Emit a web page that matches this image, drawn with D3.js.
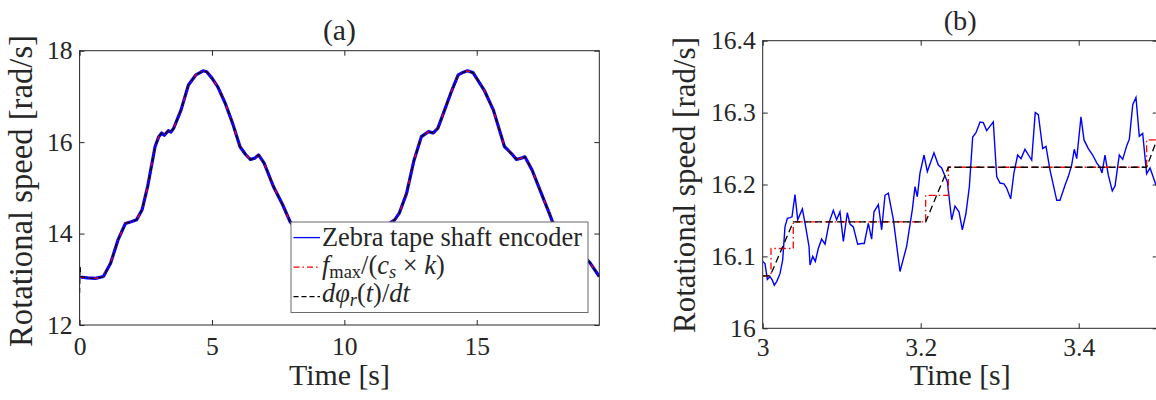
<!DOCTYPE html>
<html>
<head>
<meta charset="utf-8">
<script src="https://cdn.jsdelivr.net/npm/d3@7/dist/d3.min.js"></script>
<style>
	body { margin: 0; background: #fff; }
	svg text { font-family: "Liberation Serif", "DejaVu Serif", "Noto Serif", "Times New Roman", serif; fill: #262626; }
</style>
</head>
<body>
<script>

	/*------ data ------*/

	// panel (a) : one speed trace, all three estimates sit on top of each other
	var timeA = [0, 0.3, 0.6, 0.9, 1.17, 1.45, 1.73, 1.95, 2.15, 2.36, 2.57, 2.85, 2.99, 3.1, 3.2, 3.35, 3.45, 3.55,
		3.83, 4.11, 4.39, 4.55, 4.66, 4.8, 5.0, 5.22, 5.5, 5.78, 6.06, 6.27, 6.45, 6.62, 6.76, 6.97, 7.32, 7.67, 7.95,
		8.5, 9.0, 9.28, 9.63, 10.0, 10.6, 10.9, 11.17, 11.45, 11.69, 11.9, 12.07, 12.35, 12.63, 12.91, 13.18, 13.35,
		13.53, 13.74, 14.02, 14.3, 14.5, 14.65, 14.86, 15.28, 15.63, 16.05, 16.33, 16.5, 16.68, 16.82, 17.09, 17.44,
		17.79, 17.86, 18.3, 18.8, 19.28, 19.63];
	var speedA = [13.05, 13.03, 13.02, 13.06, 13.35, 13.86, 14.22, 14.26, 14.3, 14.52, 15.03, 15.9, 16.12, 16.2, 16.15, 16.25, 16.22, 16.3,
		16.7, 17.25, 17.47, 17.52, 17.56, 17.54, 17.4, 17.21, 16.85, 16.41, 15.9, 15.73, 15.62, 15.65, 15.72, 15.54, 15.03, 14.63, 14.26,
		13.9, 13.6, 13.36, 13.06, 13.02, 13.02, 13.06, 13.35, 13.86, 14.22, 14.3, 14.44, 14.88, 15.6, 16.12, 16.23, 16.2,
		16.3, 16.63, 17.07, 17.47, 17.53, 17.56, 17.52, 17.14, 16.7, 15.9, 15.74, 15.62, 15.65, 15.68, 15.39, 14.88,
		14.37, 14.26, 13.98, 13.66, 13.36, 13.06];
	var derivStartT = [0, 0.02, 0.05];
	var derivStartV = [12.7, 13.28, 13.06];

	var xTicksA = [0, 5, 10, 15];
	var yTicksA = [12, 14, 16, 18];

	// panel (b) : zoom on 3 - 3.5 s
	var timeB = [3.000, 3.0029, 3.0059, 3.0092, 3.0122, 3.0147, 3.0177, 3.0219, 3.0253, 3.0282, 3.0312, 3.0346, 3.0371,
		3.0409, 3.0443, 3.0502, 3.0544, 3.0586, 3.0599, 3.0633, 3.0666, 3.0704, 3.0746, 3.0789, 3.0843, 3.0894, 3.0936,
		3.0978, 3.1021, 3.1071, 3.1105, 3.1147, 3.1202, 3.1253, 3.1286, 3.1337, 3.1379, 3.1409, 3.1464, 3.1506, 3.1548,
		3.159, 3.1654, 3.1738, 3.1822, 3.1894, 3.1928, 3.1957, 3.1991, 3.2042, 3.2084, 3.2168, 3.2223, 3.2265, 3.2337,
		3.2392, 3.2434, 3.2485, 3.2527, 3.2573, 3.2616, 3.2658, 3.2700, 3.2751, 3.2793, 3.2835, 3.2919, 3.2962, 3.3004,
		3.3054, 3.3088, 3.3139, 3.3180, 3.3227, 3.3270, 3.3320, 3.3370, 3.3405, 3.3450, 3.3489, 3.3544, 3.3586, 3.3637,
		3.3722, 3.3763, 3.3827, 3.3868, 3.3911, 3.3944, 3.3975, 3.4029, 3.4067, 3.4122, 3.4177, 3.4228, 3.4270, 3.4295,
		3.4333, 3.4375, 3.4425, 3.4460, 3.4514, 3.4557, 3.4608, 3.4641, 3.4684, 3.4725, 3.4767, 3.4810, 3.4860, 3.4903,
		3.4944, 3.4979];
	var encoderB = [16.093, 16.090, 16.068, 16.072, 16.067, 16.060, 16.065, 16.076, 16.095, 16.141, 16.153, 16.154, 16.155,
		16.186, 16.151, 16.166, 16.141, 16.114, 16.088, 16.100, 16.093, 16.111, 16.124, 16.117, 16.148, 16.164, 16.151,
		16.162, 16.121, 16.161, 16.145, 16.141, 16.117, 16.118, 16.118, 16.146, 16.124, 16.162, 16.172, 16.137, 16.185,
		16.188, 16.151, 16.079, 16.114, 16.165, 16.197, 16.183, 16.216, 16.241, 16.218, 16.244, 16.227, 16.223, 16.204,
		16.151, 16.170, 16.162, 16.137, 16.160, 16.197, 16.266, 16.272, 16.287, 16.286, 16.275, 16.287, 16.211, 16.202,
		16.201, 16.195, 16.180, 16.216, 16.241, 16.236, 16.249, 16.240, 16.234, 16.300, 16.297, 16.250, 16.253, 16.220,
		16.178, 16.178, 16.199, 16.211, 16.227, 16.249, 16.236, 16.294, 16.262, 16.250, 16.241, 16.230, 16.224, 16.216,
		16.241, 16.213, 16.191, 16.198, 16.241, 16.235, 16.254, 16.263, 16.311, 16.321, 16.267, 16.271, 16.215, 16.223,
		16.210, 16.199];
	// f_max/(c_s k) : staircase
	var stepT = [3.000, 3.0105, 3.0387, 3.2063, 3.235, 3.486, 3.5];
	var stepV = [16.073, 16.111, 16.148, 16.185, 16.224, 16.262, 16.262];
	// d phi_r / dt : piecewise linear
	var derivT = [3.000, 3.0095, 3.0387, 3.2063, 3.235, 3.486, 3.499];
	var derivV = [16.073, 16.073, 16.148, 16.148, 16.224, 16.224, 16.262];

	var xTicksB = [3, 3.2, 3.4];
	var yTicksB = [16, 16.1, 16.2, 16.3, 16.4];

	/*------ layout ------*/

	var svg = d3.select('body')
		.append('svg')
		.attr('width', 1156)
		.attr('height', 400);

	var boxA = { left: 79.6, right: 599.3, top: 50.7, bottom: 325 };
	var boxB = { left: 762.7, right: 1157.7, top: 40.7, bottom: 328.3 };

	var xA = d3.scaleLinear().domain([0, 19.63]).range([boxA.left, boxA.right]);
	var yA = d3.scaleLinear().domain([12, 18]).range([boxA.bottom, boxA.top]);
	var xB = d3.scaleLinear().domain([3, 3.5]).range([boxB.left, boxB.right]);
	var yB = d3.scaleLinear().domain([16, 16.4]).range([boxB.bottom, boxB.top]);

	// font size so that a text gets the width it has in the figure
	function fitWidth(sel, target) {
		var len = sel.node().getComputedTextLength();
		var fs = +sel.attr('font-size');
		if (len > 0) sel.attr('font-size', (fs * target / len).toFixed(2));
	}

	// digits width of the serif face, to size tick labels ("10" is ~25.6px wide)
	var probe = svg.append('text').attr('font-size', 26).text('10');
	var tickSize = 26 * 25.6 / probe.node().getComputedTextLength();
	probe.remove();

	function zipPts(ts, vs) {
		return ts.map(function (t, i) { return [t, vs[i]]; });
	}

	function drawAxes(box, x, y, xt, yt, xPad, title, titleY, ylabX, ylabY, ylabW) {
		var g = svg.append('g');

		g.append('rect')
			.attr('x', box.left).attr('y', box.top)
			.attr('width', box.right - box.left).attr('height', box.bottom - box.top)
			.attr('fill', 'none').attr('stroke', '#262626').attr('stroke-width', 1);

		var fmt = function (d) { return d; };
		var axes = [
			{ ax: d3.axisBottom(x).tickValues(xt).tickFormat(fmt).tickPadding(xPad), t: 'translate(0,' + box.bottom + ')' },
			{ ax: d3.axisTop(x).tickValues(xt).tickFormat(''), t: 'translate(0,' + box.top + ')' },
			{ ax: d3.axisLeft(y).tickValues(yt).tickFormat(fmt).tickPadding(7), t: 'translate(' + box.left + ',0)' },
			{ ax: d3.axisRight(y).tickValues(yt).tickFormat(''), t: 'translate(' + box.right + ',0)' }
		];
		axes.forEach(function (a) {
			var ag = g.append('g')
				.attr('transform', a.t)
				.call(a.ax.tickSizeInner(-5).tickSizeOuter(0));
			ag.select('.domain').remove();
			ag.attr('font-family', null).attr('font-size', null);
			ag.selectAll('line').attr('stroke', '#262626');
			ag.selectAll('text').attr('font-size', tickSize).attr('fill', '#262626');
		});

		var tt = g.append('text')
			.attr('x', (box.left + box.right) / 2).attr('y', titleY)
			.attr('text-anchor', 'middle').attr('font-size', 28)
			.text(title);
		fitWidth(tt, 33);

		var xl = g.append('text')
			.attr('x', (box.left + box.right) / 2).attr('y', 385)
			.attr('text-anchor', 'middle').attr('font-size', 29)
			.text('Time [s]');
		fitWidth(xl, 101);

		var yl = g.append('text')
			.attr('transform', 'translate(' + ylabX + ',' + ylabY + ') rotate(-90)')
			.attr('text-anchor', 'middle').attr('font-size', 32)
			.text('Rotational speed [rad/s]');
		fitWidth(yl, ylabW);
	}

	function clipFor(id, box) {
		svg.append('clipPath').attr('id', id)
			.append('rect')
			.attr('x', box.left).attr('y', box.top)
			.attr('width', box.right - box.left).attr('height', box.bottom - box.top);
		return svg.append('g').attr('clip-path', 'url(#' + id + ')');
	}

	/*------ panel (a) ------*/

	var lineA = d3.line().x(function (d) { return xA(d[0]); }).y(function (d) { return yA(d[1]); });
	var plotA = clipFor('clipA', boxA);
	var ptsA = zipPts(timeA, speedA);

	plotA.append('path').attr('d', lineA(ptsA))
		.attr('fill', 'none').attr('stroke', '#0000ff').attr('stroke-width', 3.2).attr('stroke-linejoin', 'round');
	plotA.append('path').attr('d', lineA(ptsA))
		.attr('fill', 'none').attr('stroke', '#ff0000').attr('stroke-width', 1.2).attr('stroke-dasharray', '6,3,1.5,3');
	plotA.append('path').attr('d', lineA(zipPts(derivStartT, derivStartV).concat(ptsA.slice(1))))
		.attr('fill', 'none').attr('stroke', '#000').attr('stroke-width', 1.2).attr('stroke-dasharray', '5,4');

	drawAxes(boxA, xA, yA, xTicksA, yTicksA, 12, '(a)', 40, 32, 191, 312);

	// legend
	var leg = svg.append('g');
	leg.append('rect')
		.attr('x', 291).attr('y', 222).attr('width', 297).attr('height', 90.5)
		.attr('fill', '#fff').attr('stroke', '#6b6b6b').attr('stroke-width', 1);

	var legStyles = [
		{ color: '#0000ff', dash: null, w: 1.3 },
		{ color: '#ff0000', dash: '6,3,1.5,3', w: 1.2 },
		{ color: '#000', dash: '5,3', w: 1.2 }
	];
	legStyles.forEach(function (s, i) {
		var ly = 237.6 + i * 29.5;
		leg.append('line')
			.attr('x1', 293.5).attr('x2', 320).attr('y1', ly).attr('y2', ly)
			.attr('stroke', s.color).attr('stroke-width', s.w)
			.attr('stroke-dasharray', s.dash);
	});

	var t1 = leg.append('text').attr('x', 322).attr('y', 245.5).attr('font-size', 26);
	t1.text('Zebra tape shaft encoder');
	fitWidth(t1, 260);
	var legSize = +t1.attr('font-size');
	var subSize = legSize * 0.7;

	var t2 = leg.append('text').attr('x', 322).attr('y', 274).attr('font-size', legSize);
	t2.append('tspan').attr('font-style', 'italic').text('f');
	t2.append('tspan').attr('font-size', subSize).attr('dy', 4).text('max');
	t2.append('tspan').attr('dy', -4).text('/(');
	t2.append('tspan').attr('font-style', 'italic').text('c');
	t2.append('tspan').attr('font-style', 'italic').attr('font-size', subSize).attr('dy', 4).text('s');
	t2.append('tspan').attr('dy', -4).text(' × ');
	t2.append('tspan').attr('font-style', 'italic').text('k');
	t2.append('tspan').text(')');

	var t3 = leg.append('text').attr('x', 322).attr('y', 302).attr('font-size', legSize);
	t3.append('tspan').attr('font-style', 'italic').text('dφ');
	t3.append('tspan').attr('font-style', 'italic').attr('font-size', subSize).attr('dy', 4).text('r');
	t3.append('tspan').attr('dy', -4).text('(');
	t3.append('tspan').attr('font-style', 'italic').text('t');
	t3.append('tspan').text(')/');
	t3.append('tspan').attr('font-style', 'italic').text('dt');

	/*------ panel (b) ------*/

	var lineB = d3.line().x(function (d) { return xB(d[0]); }).y(function (d) { return yB(d[1]); });
	var plotB = clipFor('clipB', boxB);

	plotB.append('path').attr('d', lineB(zipPts(timeB, encoderB)))
		.attr('fill', 'none').attr('stroke', '#0000ff').attr('stroke-width', 1.4);
	plotB.append('path').attr('d', lineB.curve(d3.curveStepAfter)(zipPts(stepT, stepV)))
		.attr('fill', 'none').attr('stroke', '#ff0000').attr('stroke-width', 1.3).attr('stroke-dasharray', '7,3,1.5,3');
	plotB.append('path').attr('d', lineB.curve(d3.curveLinear)(zipPts(derivT, derivV)))
		.attr('fill', 'none').attr('stroke', '#000').attr('stroke-width', 1.3).attr('stroke-dasharray', '7,4');

	drawAxes(boxB, xB, yB, xTicksB, yTicksB, 10, '(b)', 30, 695, 185, 296);

</script>
</body>
</html>
